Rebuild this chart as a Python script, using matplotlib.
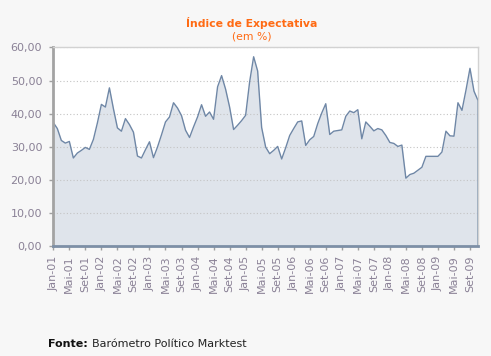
import numpy as np
import matplotlib
matplotlib.use('Agg')
import matplotlib.pyplot as plt

# ── data: monthly index, Jan-01 .. Nov-09 ───────────────────────────────────
months_pt = ['Jan', 'Fev', 'Mar', 'Abr', 'Mai', 'Jun',
             'Jul', 'Ago', 'Set', 'Out', 'Nov', 'Dez']
years = list(range(2001, 2010))
labels = [f'{m}-{y % 100:02d}' for y in years for m in months_pt][:107]

values = [
    37.3, 35.5, 31.9, 31.1, 31.6, 26.6, 28.1, 28.9, 29.8, 29.2, 32.2, 37.2,   # 2001
    42.8, 42.0, 47.8, 41.5, 35.7, 34.7, 38.5, 36.7, 34.4, 27.2, 26.6, 29.1,   # 2002
    31.5, 26.7, 29.9, 33.6, 37.5, 39.0, 43.3, 41.7, 39.4, 35.0, 32.8, 36.0,   # 2003
    39.0, 42.7, 39.2, 40.5, 38.3, 48.1, 51.5, 47.4, 42.0, 35.2, 36.5, 37.9,   # 2004
    39.5, 49.6, 57.2, 52.9, 35.8, 29.9, 27.9, 28.9, 30.1, 26.3, 29.7, 33.4,   # 2005
    35.5, 37.5, 37.8, 30.4, 32.1, 33.1, 37.0, 40.2, 43.0, 33.7, 34.7, 34.9,   # 2006
    35.1, 39.2, 40.8, 40.3, 41.2, 32.4, 37.5, 36.2, 34.8, 35.5, 35.1, 33.4,   # 2007
    31.3, 31.0, 30.1, 30.5, 20.5, 21.6, 22.0, 22.9, 23.8, 27.1, 27.1, 27.1,   # 2008
    27.1, 28.4, 34.7, 33.3, 33.2, 43.3, 41.0, 47.1, 53.7, 46.8, 44.0,         # 2009
]
yticks = [0, 10, 20, 30, 40, 50, 60]

# ── colours ──────────────────────────────────────────────────────────────────
BG      = '#f7f7f7'
FILL    = '#dfe4eb'
LINE    = '#6f87a6'
TXT     = '#8a8196'
ORANGE  = '#ff6a13'

# ── plot ─────────────────────────────────────────────────────────────────────
fig = plt.figure(figsize=(4.91, 3.56), dpi=100, facecolor=BG)
ax = fig.add_axes([0.1086, 0.309, 0.8649, 0.5576])
ax.set_facecolor('white')

x = np.arange(len(values))
ax.fill_between(x, values, 0, color=FILL, lw=0)
ax.plot(x, values, color=LINE, lw=1.0)
# area outline closes down the right edge
ax.vlines(x[-1], 0, values[-1], color='#8fa2b9', lw=2.0)

ax.set_xlim(0, len(values) - 1)
ax.set_ylim(0, 60)

ax.set_yticks(yticks)
ax.set_yticklabels([f'{v:.2f}'.replace('.', ',') for v in yticks])
ax.yaxis.grid(True, color='#c4c4c4', linestyle=(0, (1, 2)), lw=0.8)

tick_pos = x[::4]
ax.set_xticks(tick_pos)
ax.set_xticklabels([labels[i] for i in tick_pos], rotation=90)

ax.tick_params(axis='both', colors='#a0a0a0', labelcolor=TXT,
               labelsize=8, length=3, width=1)
ax.tick_params(axis='x', pad=4)
ax.tick_params(axis='y', pad=5)

for s in ['top', 'right']:
    ax.spines[s].set_color('#d2d2d2')
    ax.spines[s].set_linewidth(1.0)
ax.spines['left'].set_color('#a3a3a3')
ax.spines['left'].set_linewidth(2.0)
ax.spines['bottom'].set_color('#7d8fa6')
ax.spines['bottom'].set_linewidth(2.0)

# ── titles & source ──────────────────────────────────────────────────────────
fig.text(0.513, 0.935, 'Índice de Expectativa', ha='center', va='center',
         color=ORANGE, fontsize=7.8, fontweight='bold')
fig.text(0.513, 0.898, '(em %)', ha='center', va='center',
         color=ORANGE, fontsize=7.8)

fig.text(0.098, 0.035, 'Fonte:', ha='left', va='center',
         color='#111111', fontsize=8, fontweight='bold')
fig.text(0.187, 0.035, 'Barómetro Político Marktest', ha='left', va='center',
         color='#222222', fontsize=8)

fig.savefig('out.png', dpi=100, facecolor=BG)
